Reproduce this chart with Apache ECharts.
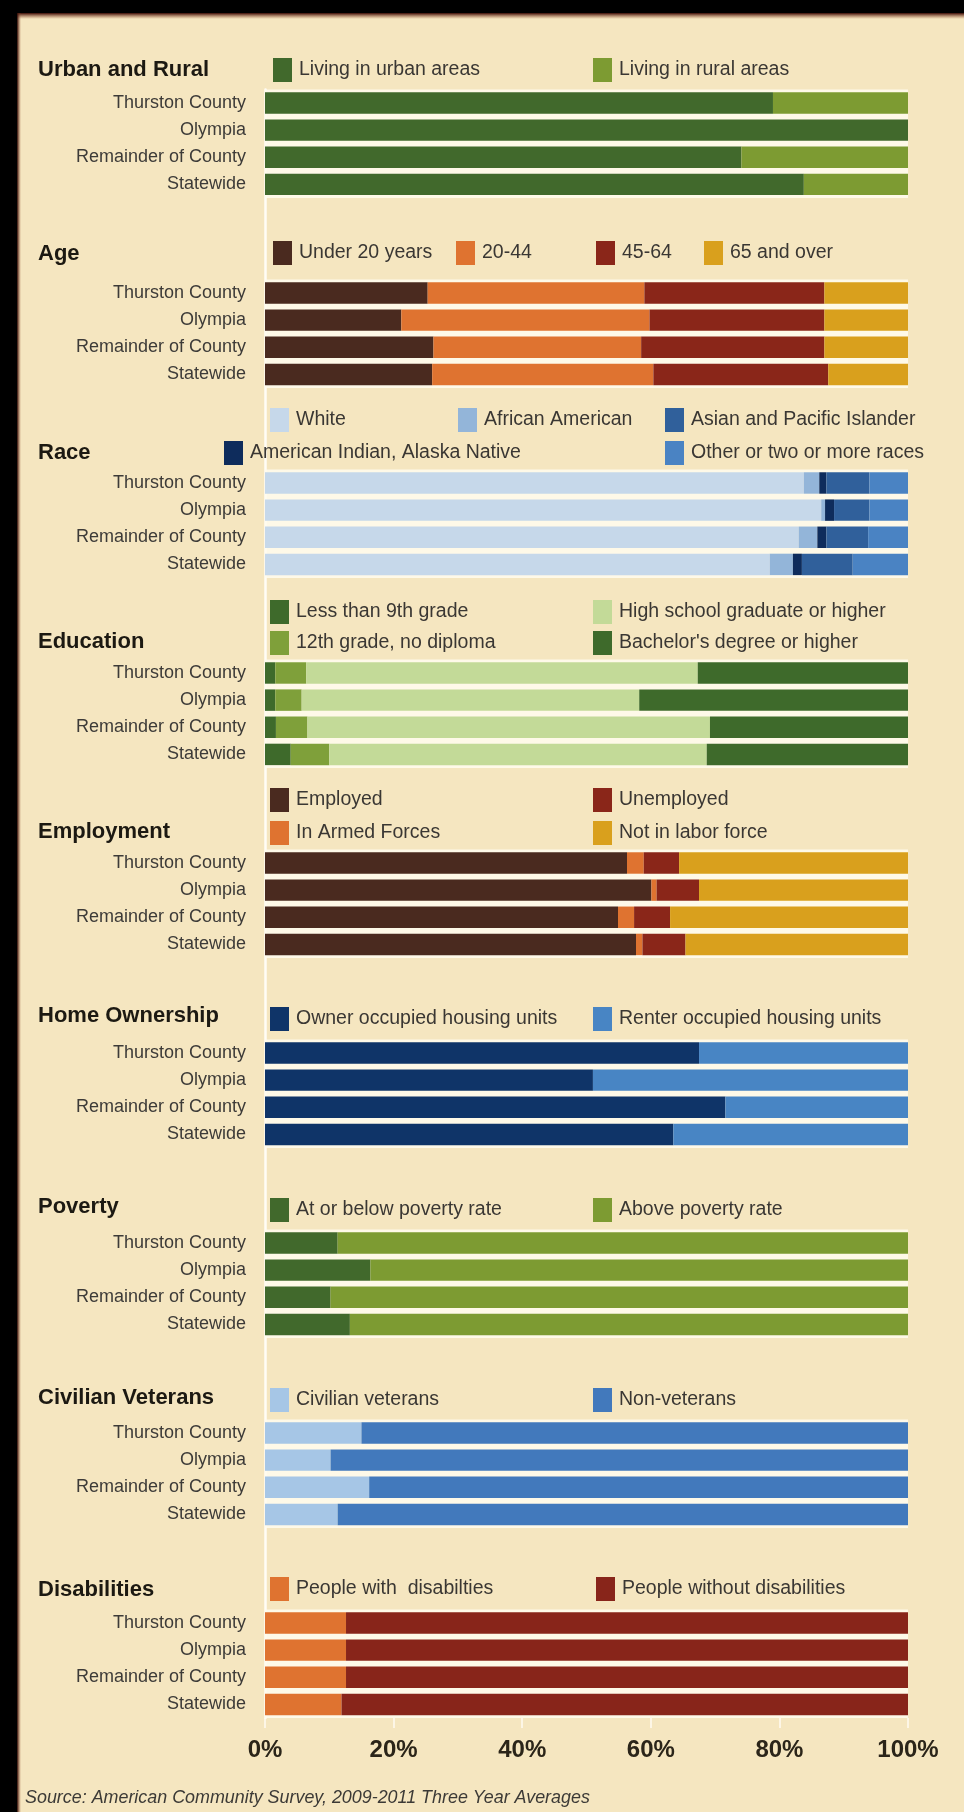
<!DOCTYPE html>
<html>
<head>
<meta charset="utf-8">
<title>Thurston County profile</title>
<script src="https://cdn.jsdelivr.net/npm/echarts@6/dist/echarts.min.js"></script>
<style>
  html, body { margin: 0; padding: 0; background: #F5E6C0; }
  #chart { width: 964px; height: 1812px; }
</style>
</head>
<body>
<div id="chart"></div>
<script>
// ---- data: shares (%) for each place ----
const places = ['Thurston County', 'Olympia', 'Remainder of County', 'Statewide'];
const sectionTitles = ['Urban and Rural', 'Age', 'Race', 'Education', 'Employment',
  'Home Ownership', 'Poverty', 'Civilian Veterans', 'Disabilities'];
const percentTicks = [0, 20, 40, 60, 80, 100];

const urbanAreas = [79.0, 100, 74.1, 83.8];
const ruralAreas = [21.0, 0, 25.9, 16.2];

const under20 = [25.3, 21.2, 26.2, 26.0];
const age20to44 = [33.7, 38.6, 32.3, 34.4];
const age45to64 = [28.0, 27.2, 28.5, 27.2];
const age65plus = [13.0, 13.0, 13.0, 12.4];

const white = [83.8, 86.5, 83.0, 78.5];
const africanAmerican = [2.4, 0.6, 2.9, 3.6];
const americanIndian = [1.1, 1.4, 1.4, 1.4];
const asianPacific = [6.7, 5.5, 6.5, 7.9];
const otherRaces = [6.0, 6.0, 6.2, 8.6];

const lessThan9th = [1.6, 1.6, 1.7, 4.0];
const grade12NoDiploma = [4.8, 4.1, 4.9, 6.0];
const highSchoolGrad = [60.9, 52.5, 62.6, 58.7];
const bachelors = [32.7, 41.8, 30.8, 31.3];

const employed = [56.3, 60.1, 54.9, 57.7];
const armedForces = [2.6, 0.8, 2.5, 1.0];
const unemployed = [5.5, 6.6, 5.6, 6.7];
const notInLaborForce = [35.6, 32.5, 37.0, 34.6];

const ownerOccupied = [67.5, 51.0, 71.6, 63.5];
const renterOccupied = [32.5, 49.0, 28.4, 36.5];

const belowPoverty = [11.3, 16.4, 10.2, 13.2];
const abovePoverty = [88.7, 83.6, 89.8, 86.8];

const veterans = [15.0, 10.2, 16.2, 11.3];
const nonVeterans = [85.0, 89.8, 83.8, 88.7];

const withDisability = [12.6, 12.6, 12.6, 11.9];
const withoutDisability = [87.4, 87.4, 87.4, 88.1];

// one block of stacked bars per topic
const sections = [
  [['Living in urban areas', urbanAreas], ['Living in rural areas', ruralAreas]],
  [['Under 20 years', under20], ['20-44', age20to44], ['45-64', age45to64], ['65 and over', age65plus]],
  [['White', white], ['African American', africanAmerican], ['American Indian, Alaska Native', americanIndian],
   ['Asian and Pacific Islander', asianPacific], ['Other or two or more races', otherRaces]],
  [['Less than 9th grade', lessThan9th], ['12th grade, no diploma', grade12NoDiploma],
   ['High school graduate or higher', highSchoolGrad], ["Bachelor's degree or higher", bachelors]],
  [['Employed', employed], ['In Armed Forces', armedForces], ['Unemployed', unemployed], ['Not in labor force', notInLaborForce]],
  [['Owner occupied housing units', ownerOccupied], ['Renter occupied housing units', renterOccupied]],
  [['At or below poverty rate', belowPoverty], ['Above poverty rate', abovePoverty]],
  [['Civilian veterans', veterans], ['Non-veterans', nonVeterans]],
  [['People with  disabilties', withDisability], ['People without disabilities', withoutDisability]]
];

// ---- styling ----
const colors = {
  'Living in urban areas': '#41692C', 'Living in rural areas': '#7D9B32',
  'Under 20 years': '#4A2A1F', '20-44': '#DF7330', '45-64': '#8A2619', '65 and over': '#D9A01D',
  'White': '#C6D8EA', 'African American': '#93B5D9', 'American Indian, Alaska Native': '#0E2C5C',
  'Asian and Pacific Islander': '#30609B', 'Other or two or more races': '#4A83C3',
  'Less than 9th grade': '#3E6A2B', '12th grade, no diploma': '#7FA03A',
  'High school graduate or higher': '#C3DA98', "Bachelor's degree or higher": '#3E6A2B',
  'Employed': '#4A2A1F', 'In Armed Forces': '#DF7330', 'Unemployed': '#8A2619', 'Not in labor force': '#D9A01D',
  'Owner occupied housing units': '#0F3468', 'Renter occupied housing units': '#4885C4',
  'At or below poverty rate': '#41692C', 'Above poverty rate': '#7D9B32',
  'Civilian veterans': '#A6C6E6', 'Non-veterans': '#4279BC',
  'People with  disabilties': '#DF7330', 'People without disabilities': '#88251A'
};

// legend swatch left edge and vertical centre, per entry
const legendSpots = {
  'Living in urban areas': [273, 70], 'Living in rural areas': [593, 70],
  'Under 20 years': [273, 253], '20-44': [456, 253], '45-64': [596, 253], '65 and over': [704, 253],
  'White': [270, 420], 'African American': [458, 420], 'Asian and Pacific Islander': [665, 420],
  'American Indian, Alaska Native': [224, 453], 'Other or two or more races': [665, 453],
  'Less than 9th grade': [270, 612], 'High school graduate or higher': [593, 612],
  '12th grade, no diploma': [270, 643], "Bachelor's degree or higher": [593, 643],
  'Employed': [270, 800], 'Unemployed': [593, 800], 'In Armed Forces': [270, 833], 'Not in labor force': [593, 833],
  'Owner occupied housing units': [270, 1019], 'Renter occupied housing units': [593, 1019],
  'At or below poverty rate': [270, 1210], 'Above poverty rate': [593, 1210],
  'Civilian veterans': [270, 1400], 'Non-veterans': [593, 1400],
  'People with  disabilties': [270, 1589], 'People without disabilities': [596, 1589]
};
const titleY = [70, 254, 453, 642, 832, 1016, 1207, 1398, 1590];

const REGULAR = "'Liberation Sans', Arial, sans-serif";

// each topic takes 4 rows, followed by 3 empty rows for the next heading
const SLOTS = 7;
const rowCount = sections.length * SLOTS - 3;
const categories = [];
sections.forEach((_, s) => {
  places.forEach(p => categories.push(p));
  if (s < sections.length - 1) categories.push('', '', '');
});

const series = [];
const legends = [];
sections.forEach((parts, s) => {
  parts.forEach(([name, values], j) => {
    const data = new Array(rowCount).fill('-');
    values.forEach((v, k) => { data[s * SLOTS + k] = v; });
    const item = {
      name, type: 'bar', stack: 'share', data,
      barCategoryGap: '21%',
      itemStyle: { color: colors[name] },
      emphasis: { disabled: true },
      silent: true
    };
    if (j === 0) {
      // pale band showing through the gaps between the four bars
      item.markArea = {
        silent: true,
        itemStyle: { color: 'rgba(255,251,238,0.85)' },
        data: [[{ xAxis: 0, yAxis: s * SLOTS }, { xAxis: 100, yAxis: s * SLOTS + 3 }]]
      };
    }
    series.push(item);
    const [lx, ly] = legendSpots[name];
    legends.push({
      data: [name], left: lx, top: ly - 12, padding: 0,
      icon: 'rect', itemWidth: 19, itemHeight: 24, selectedMode: false,
      textStyle: { fontFamily: REGULAR, fontSize: 19.5, color: '#3a3733', padding: [0, 0, 0, 2] }
    });
  });
});

const darkEdgeV = new echarts.graphic.LinearGradient(0, 0, 0, 1,
  [{ offset: 0, color: '#3a0b05' }, { offset: 1, color: 'rgba(150,80,50,0)' }]);
const darkEdgeH = new echarts.graphic.LinearGradient(0, 0, 1, 0,
  [{ offset: 0, color: '#2a0704' }, { offset: 1, color: 'rgba(150,80,50,0)' }]);

const graphics = [
  { type: 'rect', shape: { x: 0, y: 0, width: 964, height: 13 }, style: { fill: '#000' } },
  { type: 'rect', shape: { x: 0, y: 13, width: 964, height: 6 }, style: { fill: darkEdgeV } },
  { type: 'rect', shape: { x: 0, y: 0, width: 17, height: 1812 }, style: { fill: '#000' } },
  { type: 'rect', shape: { x: 17, y: 13, width: 4, height: 1799 }, style: { fill: darkEdgeH } },
  {
    type: 'text', x: 25, y: 1798,
    style: {
      text: 'Source: American Community Survey, 2009-2011 Three Year Averages',
      fontFamily: REGULAR, fontSize: 17.9, fontStyle: 'italic', fill: '#3c3a36', verticalAlign: 'middle'
    }
  }
];
sectionTitles.forEach((t, i) => {
  graphics.push({
    type: 'text', x: 38, y: titleY[i],
    style: { text: t, fontFamily: REGULAR, fontSize: 22, fontWeight: 'bold', fill: '#1c1912', verticalAlign: 'middle' }
  });
});

const chart = echarts.init(document.getElementById('chart'), null, { renderer: 'canvas' });
chart.setOption({
  backgroundColor: '#F5E6C0',
  animation: false,
  textStyle: { fontFamily: REGULAR },
  grid: { left: 265, right: 56, top: 89.4, height: 1628.6, outerBoundsMode: 'none' },
  xAxis: {
    type: 'value',
    min: percentTicks[0], max: percentTicks[percentTicks.length - 1],
    interval: percentTicks[1] - percentTicks[0],
    axisLine: { show: false },
    axisTick: { show: true, length: 10, lineStyle: { color: '#FFFBF2', width: 1.5 } },
    splitLine: { show: false },
    axisLabel: {
      formatter: '{value}%', margin: 20, fontFamily: REGULAR, fontSize: 24,
      fontWeight: 'bold', color: '#2b2519'
    }
  },
  yAxis: {
    type: 'category', inverse: true, data: categories,
    axisLine: { show: true, lineStyle: { color: '#FFFDF6', width: 2.5 } },
    axisTick: { show: false },
    splitLine: { show: false },
    axisLabel: { interval: 0, margin: 19, fontFamily: REGULAR, fontSize: 18, color: '#3d3b38' }
  },
  legend: legends,
  graphic: graphics,
  series
});
</script>
</body>
</html>
